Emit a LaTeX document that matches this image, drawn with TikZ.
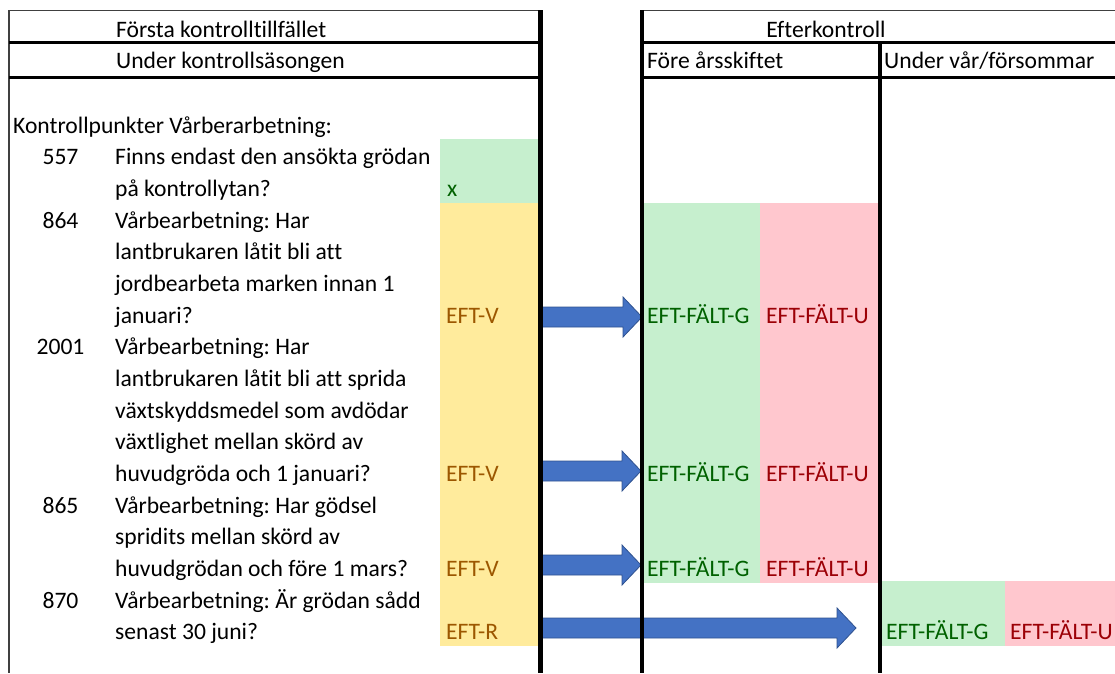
\documentclass[tikz,border=0pt]{standalone}
\usepackage{fontspec}
\setmainfont{Carlito}[Ligatures={NoCommon,NoRare}]
\usetikzlibrary{calc}
\frenchspacing
\definecolor{goodfill}{HTML}{C6EFCE}
\definecolor{goodtext}{HTML}{006100}
\definecolor{badfill}{HTML}{FFC7CE}
\definecolor{badtext}{HTML}{9C0006}
\definecolor{neutfill}{HTML}{FFEB9C}
\definecolor{neuttext}{HTML}{9C5700}
\definecolor{arrowblue}{HTML}{4472C4}
\definecolor{arrowedge}{HTML}{2F528F}
\newcommand{\blockarrow}[2]{%
  \path[bigarrow] ($(#1)+(0,-10)$) -- ($(#2)+(-19,-10)$) -- ($(#2)+(-19,-20)$) -- (#2)
    -- ($(#2)+(-19,20)$) -- ($(#2)+(-19,10)$) -- ($(#1)+(0,10)$) -- cycle;}
\begin{document}
\begin{tikzpicture}[x=1pt,y=-1pt,
  cellfont/.style={font=\fontsize{23.6}{28}\selectfont\frenchspacing},
  txt/.style={anchor=base west, inner sep=0pt, cellfont},
  num/.style={anchor=base, inner sep=0pt, cellfont},
  good/.style={txt, text=goodtext},
  bad/.style={txt, text=badtext},
  neut/.style={txt, text=neuttext},
  thinline/.style={line width=1.5pt, draw=black!75},
  thickh/.style={line width=3pt, draw=black},
  thickv/.style={line width=4.3pt, draw=black},
  bigarrow/.style={fill=arrowblue, draw=arrowedge, line width=0.8pt, line join=miter}]
\useasboundingbox (0,0) rectangle (1115,673);
% cell fills
\fill[goodfill] (440,139) rectangle (540,203);
\fill[neutfill] (440,203) rectangle (540,646.3);
\fill[goodfill] (642,203) rectangle (760,583);
\fill[badfill] (760,203) rectangle (880,583);
\fill[goodfill] (880,581) rectangle (1005,646.3);
\fill[badfill] (1005,581) rectangle (1115,646.3);
% headers
\node[txt] (h1) at (116,37) {Första kontrolltillfället};
\node[txt] (h2) at (116,68) {Under kontrollsäsongen};
\node[num] (h3) at (826,37) {Efterkontroll};
\node[txt] (h4) at (647,68) {Före årsskiftet};
\node[txt] (h5) at (884,68) {Under vår/försommar};
\node[txt] (kp) at (13,133) {Kontrollpunkter Vårberarbetning:};
% rows
\node[num] (n557) at (60.5,164.5) {557};
\node[txt] (t0) at (115,164.5) {Finns endast den ansökta grödan};
\node[txt] (t1) at (115,196.5) {på kontrollytan?};
\node[good] (x557) at (447,196.5) {x};
\node[num] (n864) at (60.5,228.2) {864};
\node[txt] (t2) at (115,228.2) {Vårbearbetning: Har};
\node[txt] (t3) at (115,259.8) {lantbrukaren låtit bli att};
\node[txt] (t4) at (115,291.5) {jordbearbeta marken innan 1};
\node[txt] (t5) at (115,323.2) {januari?};
\node[neut] (v1) at (446,323.2) {EFT-V};
\node[good] (g1) at (647,323.2) {EFT-FÄLT-G};
\node[bad] (u1) at (766,323.2) {EFT-FÄLT-U};
\node[num] (n2001) at (60.5,354.8) {2001};
\node[txt] (t6) at (115,354.8) {Vårbearbetning: Har};
\node[txt] (t7) at (115,386.5) {lantbrukaren låtit bli att sprida};
\node[txt] (t8) at (115,418.2) {växtskyddsmedel som avdödar};
\node[txt] (t9) at (115,449.8) {växtlighet mellan skörd av};
\node[txt] (t10) at (115,481.5) {huvudgröda och 1 januari?};
\node[neut] (v2) at (446,481.5) {EFT-V};
\node[good] (g2) at (647,481.5) {EFT-FÄLT-G};
\node[bad] (u2) at (766,481.5) {EFT-FÄLT-U};
\node[num] (n865) at (60.5,513.2) {865};
\node[txt] (t11) at (115,513.2) {Vårbearbetning: Har gödsel};
\node[txt] (t12) at (115,544.8) {spridits mellan skörd av};
\node[txt] (t13) at (115,576.5) {huvudgrödan och före 1 mars?};
\node[neut] (v3) at (446,576.5) {EFT-V};
\node[good] (g3) at (647,576.5) {EFT-FÄLT-G};
\node[bad] (u3) at (766,576.5) {EFT-FÄLT-U};
\node[num] (n870) at (60.5,608.2) {870};
\node[txt] (t14) at (115,608.2) {Vårbearbetning: Är grödan sådd};
\node[txt] (t15) at (115,639.8) {senast 30 juni?};
\node[neut] (r4) at (446,639.8) {EFT-R};
\node[good] (g4) at (886,639.8) {EFT-FÄLT-G};
\node[bad] (u4) at (1010,639.8) {EFT-FÄLT-U};
% arrow endpoints
\coordinate (a1s) at (540,317);  \coordinate (a1e) at (642,317);
\coordinate (a2s) at (540,471);  \coordinate (a2e) at (641,471);
\coordinate (a3s) at (540,565);  \coordinate (a3e) at (641,565);
\coordinate (a4s) at (540,628);  \coordinate (a4e) at (856,628);
\blockarrow{a1s}{a1e}
\blockarrow{a2s}{a2e}
\blockarrow{a3s}{a3e}
\blockarrow{a4s}{a4e}
% grid lines
\draw[thinline] (9,10.5) -- (540,10.5);
\draw[thinline] (642,10.5) -- (1115,10.5);
\draw[thinline] (9,10) -- (9,673);
\draw[thickh] (9,42.5) -- (540,42.5);
\draw[thickh] (9,77.5) -- (540,77.5);
\draw[thickh] (642,42.5) -- (1115,42.5);
\draw[thickh] (642,77.5) -- (1115,77.5);
\draw[thickv] (540.5,10) -- (540.5,673);
\draw[thickv] (642,10) -- (642,673);
\draw[thickv] (880,42.5) -- (880,673);
\end{tikzpicture}
\end{document}
